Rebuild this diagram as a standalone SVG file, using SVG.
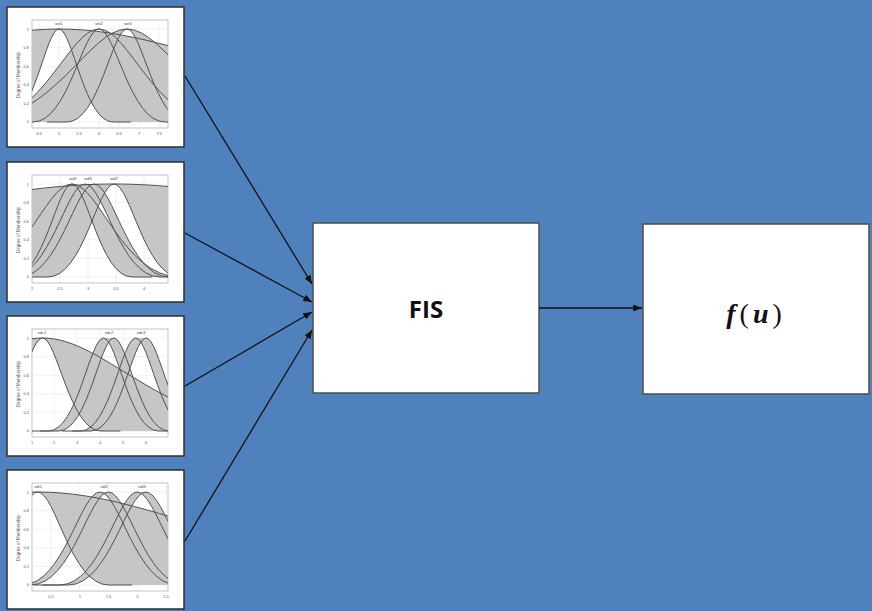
<svg xmlns="http://www.w3.org/2000/svg" xmlns:xlink="http://www.w3.org/1999/xlink" width="872" height="611" viewBox="0 0 872 611">
  <style>
    .bg { fill: #4f81bd; }
    .panel { fill: #ffffff; stroke: #2e2e2e; stroke-width: 1.5; }
    .frm { fill: #ffffff; stroke: #9a9a9a; stroke-width: 0.6; }
    .grid { stroke: #e2e2e2; stroke-width: 0.5; fill: none; }
    .fou { fill: #c6c6c6; }
    .crv { fill: none; stroke: #505050; stroke-width: 1; }
    .tk { font-family: "Liberation Sans", Arial, sans-serif; font-size: 4px; fill: #555555; }
    .tx { text-anchor: middle; }
    .ty { text-anchor: end; }
    .mfl { font-family: "Liberation Sans", Arial, sans-serif; font-size: 4px; fill: #444444; text-anchor: middle; }
    .ylab { font-family: "Liberation Sans", Arial, sans-serif; font-size: 4.5px; fill: #555555; text-anchor: middle; }
    .box { fill: #ffffff; stroke: #4d4d4d; stroke-width: 1.5; }
    .link { fill: none; stroke: #111111; stroke-width: 1.3; marker-end: url(#arr); }
    .fis { font-family: "Open Sans", "Liberation Sans", sans-serif; font-weight: bold; font-size: 24px; fill: #111111; text-anchor: middle; }
    .math { font-family: "Liberation Serif", "DejaVu Serif", serif; font-size: 28px; fill: #111111; text-anchor: middle; letter-spacing: 4px; }
    .mi { font-style: italic; font-weight: bold; }
  </style>
  <defs>
    <clipPath id="frame"><rect x="25" y="13" width="136" height="108"/></clipPath>
    <marker id="arr" viewBox="0 0 10 8" refX="10" refY="4" markerWidth="9" markerHeight="7" markerUnits="userSpaceOnUse" orient="auto">
      <path d="M0,0 L10,4 L0,8 Z" fill="#111111"/>
    </marker>

    <!-- Gaussian membership curves, panel-local coordinates: y=115 is 0, y=22 is 1 -->
    <!-- panel 1 -->
    <path id="a11l" d="M -20 115 L -2 115 C 26.8 115 38.5 22 52 22 C 65.5 22 77.2 115 106 115 L 124 115"/>
    <path id="a11u" d="M -668 115 L -488 115 C -200 115 -83 22 52 22 C 187 22 304 115 592 115 L 772 115"/>
    <path id="a12u" d="M -68 115 L -28 115 C 36 115 62 22 92 22 C 122 22 148 115 212 115 L 252 115"/>
    <path id="a12l" d="M 4 115 L 26 115 C 61.2 115 75.5 22 92 22 C 108.5 22 122.8 115 158 115 L 180 115"/>
    <path id="a13u" d="M -88 115 L -36 115 C 47.2 115 81 22 120 22 C 159 22 192.8 115 276 115 L 328 115"/>
    <path id="a13l" d="M 40 115 L 60 115 C 92 115 105 22 120 22 C 135 22 148 115 180 115 L 200 115"/>
    <!-- panel 2 -->
    <path id="a21u" d="M -79 115 L -43 115 C 14.6 115 38 22 65 22 C 92 22 115.4 115 173 115 L 209 115"/>
    <path id="a21l" d="M -15 115 L 5 115 C 37 115 50 22 65 22 C 80 22 93 115 125 115 L 145 115"/>
    <path id="a221" d="M -22 115 L 3 115 C 43 115 59.25 22 78 22 C 96.75 22 113 115 153 115 L 178 115"/>
    <path id="a222" d="M -13 115 L 12 115 C 52 115 68.25 22 87 22 C 105.75 22 122 115 162 115 L 187 115"/>
    <path id="a22U" d="M 3 115 C 43 115 59.25 22 78 22 L 87 22 C 105.75 22 122 115 162 115"/>
    <path id="a23l" d="M 19 115 L 41 115 C 76.2 115 90.5 22 107 22 C 123.5 22 137.8 115 173 115 L 195 115"/>
    <path id="a23u" d="M -889 115 L -640 115 C -241.6 115 -79.8 22 107 22 C 293.8 22 455.6 115 854 115 L 1103 115"/>
    <!-- panel 3 -->
    <path id="a31l" d="M -42.5 115 L -23 115 C 8.2 115 20.9 22 35.5 22 C 50.1 22 62.8 115 94 115 L 113.5 115"/>
    <path id="a31u" d="M -312.5 115 L -225.5 115 C -86.3 115 -29.75 22 35.5 22 C 100.75 22 157.3 115 296.5 115 L 383.5 115"/>
    <path id="a321" d="M 22.85 115 L 41.25 115 C 70.69 115 82.65 22 96.45 22 C 110.25 22 122.21 115 151.65 115 L 170.05 115"/>
    <path id="a322" d="M 33.2 115 L 51.6 115 C 81.04 115 93 22 106.8 22 C 120.6 22 132.56 115 162 115 L 180.4 115"/>
    <path id="a32U" d="M 41.25 115 C 70.69 115 82.65 22 96.45 22 L 106.8 22 C 120.6 22 132.56 115 162 115"/>
    <path id="a331" d="M 55.05 115 L 73.45 115 C 102.89 115 114.85 22 128.65 22 C 142.45 22 154.41 115 183.85 115 L 202.25 115"/>
    <path id="a332" d="M 65.4 115 L 83.8 115 C 113.24 115 125.2 22 139 22 C 152.8 22 164.76 115 194.2 115 L 212.6 115"/>
    <path id="a33U" d="M 73.45 115 C 102.89 115 114.85 22 128.65 22 L 139 22 C 152.8 22 164.76 115 194.2 115"/>
    <!-- panel 4 -->
    <path id="a41l" d="M -63.6 115 L -40 115 C -2.24 115 13.1 22 30.8 22 C 48.5 22 63.84 115 101.6 115 L 125.2 115"/>
    <path id="a41u" d="M -659.2 115 L -486.7 115 C -210.7 115 -98.6 22 30.8 22 C 160.2 22 272.3 115 548.3 115 L 720.8 115"/>
    <path id="a421" d="M -10.7 115 L 15.2 115 C 56.64 115 73.47 22 92.9 22 C 112.33 22 129.16 115 170.6 115 L 196.5 115"/>
    <path id="a422" d="M -2.1 115 L 23.8 115 C 65.24 115 82.07 22 101.5 22 C 120.93 22 137.76 115 179.2 115 L 205.1 115"/>
    <path id="a42U" d="M 15.2 115 C 56.64 115 73.47 22 92.9 22 L 101.5 22 C 120.93 22 137.76 115 179.2 115"/>
    <path id="a431" d="M 26.65 115 L 52.55 115 C 93.99 115 110.82 22 130.25 22 C 149.68 22 166.51 115 207.95 115 L 233.85 115"/>
    <path id="a432" d="M 35.3 115 L 61.2 115 C 102.64 115 119.47 22 138.9 22 C 158.33 22 175.16 115 216.6 115 L 242.5 115"/>
    <path id="a43U" d="M 52.55 115 C 93.99 115 110.82 22 130.25 22 L 138.9 22 C 158.33 22 175.16 115 216.6 115"/>

    <!-- footprints of uncertainty: upper area minus lower area -->
    <mask id="k11" maskUnits="userSpaceOnUse" x="25" y="13" width="136" height="108"><use href="#a11u" fill="#fff"/><use href="#a11l" fill="#000"/></mask>
    <mask id="k12" maskUnits="userSpaceOnUse" x="25" y="13" width="136" height="108"><use href="#a12u" fill="#fff"/><use href="#a12l" fill="#000"/></mask>
    <mask id="k13" maskUnits="userSpaceOnUse" x="25" y="13" width="136" height="108"><use href="#a13u" fill="#fff"/><use href="#a13l" fill="#000"/></mask>

    <mask id="k21" maskUnits="userSpaceOnUse" x="25" y="13" width="136" height="108"><use href="#a21u" fill="#fff"/><use href="#a21l" fill="#000"/></mask>
    <clipPath id="q22"><use href="#a222"/></clipPath>
    <mask id="k22" maskUnits="userSpaceOnUse" x="25" y="13" width="136" height="108"><use href="#a22U" fill="#fff"/><use href="#a221" fill="#000" clip-path="url(#q22)"/></mask>
    <mask id="k23" maskUnits="userSpaceOnUse" x="25" y="13" width="136" height="108"><use href="#a23u" fill="#fff"/><use href="#a23l" fill="#000"/></mask>

    <mask id="k31" maskUnits="userSpaceOnUse" x="25" y="13" width="136" height="108"><use href="#a31u" fill="#fff"/><use href="#a31l" fill="#000"/></mask>
    <clipPath id="q32"><use href="#a322"/></clipPath>
    <mask id="k32" maskUnits="userSpaceOnUse" x="25" y="13" width="136" height="108"><use href="#a32U" fill="#fff"/><use href="#a321" fill="#000" clip-path="url(#q32)"/></mask>
    <clipPath id="q33"><use href="#a332"/></clipPath>
    <mask id="k33" maskUnits="userSpaceOnUse" x="25" y="13" width="136" height="108"><use href="#a33U" fill="#fff"/><use href="#a331" fill="#000" clip-path="url(#q33)"/></mask>

    <mask id="k41" maskUnits="userSpaceOnUse" x="25" y="13" width="136" height="108"><use href="#a41u" fill="#fff"/><use href="#a41l" fill="#000"/></mask>
    <clipPath id="q42"><use href="#a422"/></clipPath>
    <mask id="k42" maskUnits="userSpaceOnUse" x="25" y="13" width="136" height="108"><use href="#a42U" fill="#fff"/><use href="#a421" fill="#000" clip-path="url(#q42)"/></mask>
    <clipPath id="q43"><use href="#a432"/></clipPath>
    <mask id="k43" maskUnits="userSpaceOnUse" x="25" y="13" width="136" height="108"><use href="#a43U" fill="#fff"/><use href="#a431" fill="#000" clip-path="url(#q43)"/></mask>

    <!-- shared horizontal grid and y ticks -->
    <g id="hgrid" class="grid">
      <line x1="25" y1="115" x2="161" y2="115"/>
      <line x1="25" y1="96.4" x2="161" y2="96.4"/>
      <line x1="25" y1="77.8" x2="161" y2="77.8"/>
      <line x1="25" y1="59.2" x2="161" y2="59.2"/>
      <line x1="25" y1="40.6" x2="161" y2="40.6"/>
      <line x1="25" y1="22" x2="161" y2="22"/>
    </g>
    <g id="yaxis">
      <text class="tk ty" x="22" y="23.5">1</text>
      <text class="tk ty" x="22" y="42">0.8</text>
      <text class="tk ty" x="22" y="60.6">0.6</text>
      <text class="tk ty" x="22" y="79.2">0.4</text>
      <text class="tk ty" x="22" y="97.8">0.2</text>
      <text class="tk ty" x="22" y="116.4">0</text>
      <text class="ylab" transform="translate(13 68) rotate(-90)">Degree of Membership</text>
    </g>
  </defs>

  <rect class="bg" x="0" y="0" width="872" height="611"/>

  <!-- input 1 -->
  <g id="panel-1" transform="translate(7 7)">
    <rect class="panel" x="0" y="0" width="177" height="140"/>
    <rect class="frm" x="25" y="13" width="136" height="108"/>
    <use href="#hgrid"/>
    <g class="grid">
      <line x1="32" y1="13" x2="32" y2="121"/><line x1="52" y1="13" x2="52" y2="121"/><line x1="72" y1="13" x2="72" y2="121"/>
      <line x1="92" y1="13" x2="92" y2="121"/><line x1="112" y1="13" x2="112" y2="121"/><line x1="132" y1="13" x2="132" y2="121"/>
      <line x1="152" y1="13" x2="152" y2="121"/>
    </g>
    <g clip-path="url(#frame)">
      <use href="#a11u" class="fou" mask="url(#k11)"/>
      <use href="#a12u" class="fou" mask="url(#k12)"/>
      <use href="#a13u" class="fou" mask="url(#k13)"/>
      <use href="#a11l" class="crv"/><use href="#a11u" class="crv"/>
      <use href="#a12l" class="crv"/><use href="#a12u" class="crv"/>
      <use href="#a13l" class="crv"/><use href="#a13u" class="crv"/>
    </g>
    <text class="mfl" x="52" y="18">wn1</text>
    <text class="mfl" x="92" y="18">wn2</text>
    <text class="mfl" x="121" y="18">wn3</text>
    <use href="#yaxis"/>
    <text class="tk tx" x="32" y="128">4.5</text><text class="tk tx" x="52" y="128">5</text><text class="tk tx" x="72" y="128">5.5</text>
    <text class="tk tx" x="92" y="128">6</text><text class="tk tx" x="112" y="128">6.5</text><text class="tk tx" x="132" y="128">7</text>
    <text class="tk tx" x="152" y="128">7.5</text>
  </g>

  <!-- input 2 -->
  <g id="panel-2" transform="translate(7 162)">
    <rect class="panel" x="0" y="0" width="177" height="140"/>
    <rect class="frm" x="25" y="13" width="136" height="108"/>
    <use href="#hgrid"/>
    <g class="grid">
      <line x1="53" y1="13" x2="53" y2="121"/><line x1="81" y1="13" x2="81" y2="121"/>
      <line x1="109" y1="13" x2="109" y2="121"/><line x1="137" y1="13" x2="137" y2="121"/>
    </g>
    <g clip-path="url(#frame)">
      <use href="#a21u" class="fou" mask="url(#k21)"/>
      <use href="#a22U" class="fou" mask="url(#k22)"/>
      <use href="#a23u" class="fou" mask="url(#k23)"/>
      <use href="#a21l" class="crv"/><use href="#a21u" class="crv"/>
      <use href="#a221" class="crv"/><use href="#a222" class="crv"/>
      <use href="#a23l" class="crv"/><use href="#a23u" class="crv"/>
    </g>
    <text class="mfl" x="66" y="18">wd2</text>
    <text class="mfl" x="81" y="18">wd3</text>
    <text class="mfl" x="107" y="18">wd7</text>
    <use href="#yaxis"/>
    <text class="tk tx" x="25" y="128">2</text><text class="tk tx" x="53" y="128">2.5</text><text class="tk tx" x="81" y="128">3</text>
    <text class="tk tx" x="109" y="128">3.5</text><text class="tk tx" x="137" y="128">4</text>
  </g>

  <!-- input 3 -->
  <g id="panel-3" transform="translate(7 316)">
    <rect class="panel" x="0" y="0" width="177" height="140"/>
    <rect class="frm" x="25" y="13" width="136" height="108"/>
    <use href="#hgrid"/>
    <g class="grid">
      <line x1="47" y1="13" x2="47" y2="121"/><line x1="70" y1="13" x2="70" y2="121"/><line x1="93" y1="13" x2="93" y2="121"/>
      <line x1="116" y1="13" x2="116" y2="121"/><line x1="139" y1="13" x2="139" y2="121"/>
    </g>
    <g clip-path="url(#frame)">
      <use href="#a31u" class="fou" mask="url(#k31)"/>
      <use href="#a32U" class="fou" mask="url(#k32)"/>
      <use href="#a33U" class="fou" mask="url(#k33)"/>
      <use href="#a31l" class="crv"/><use href="#a31u" class="crv"/>
      <use href="#a321" class="crv"/><use href="#a322" class="crv"/>
      <use href="#a331" class="crv"/><use href="#a332" class="crv"/>
    </g>
    <text class="mfl" x="35" y="18">sdc1</text>
    <text class="mfl" x="102" y="18">sdc2</text>
    <text class="mfl" x="134" y="18">sdc3</text>
    <use href="#yaxis"/>
    <text class="tk tx" x="25" y="128">1</text><text class="tk tx" x="47" y="128">2</text><text class="tk tx" x="70" y="128">3</text>
    <text class="tk tx" x="93" y="128">4</text><text class="tk tx" x="116" y="128">5</text><text class="tk tx" x="139" y="128">6</text>
  </g>

  <!-- input 4 -->
  <g id="panel-4" transform="translate(7 470)">
    <rect class="panel" x="0" y="0" width="177" height="139"/>
    <rect class="frm" x="25" y="13" width="136" height="108"/>
    <use href="#hgrid"/>
    <g class="grid">
      <line x1="44" y1="13" x2="44" y2="121"/><line x1="72.75" y1="13" x2="72.75" y2="121"/>
      <line x1="101.5" y1="13" x2="101.5" y2="121"/><line x1="130.25" y1="13" x2="130.25" y2="121"/>
      <line x1="159" y1="13" x2="159" y2="121"/>
    </g>
    <g clip-path="url(#frame)">
      <use href="#a41u" class="fou" mask="url(#k41)"/>
      <use href="#a42U" class="fou" mask="url(#k42)"/>
      <use href="#a43U" class="fou" mask="url(#k43)"/>
      <use href="#a41l" class="crv"/><use href="#a41u" class="crv"/>
      <use href="#a421" class="crv"/><use href="#a422" class="crv"/>
      <use href="#a431" class="crv"/><use href="#a432" class="crv"/>
    </g>
    <text class="mfl" x="31" y="18">sdt1</text>
    <text class="mfl" x="97" y="18">sdt2</text>
    <text class="mfl" x="135" y="18">sdt3</text>
    <use href="#yaxis"/>
    <text class="tk tx" x="44" y="128">0.5</text><text class="tk tx" x="72.75" y="128">1</text><text class="tk tx" x="101.5" y="128">1.5</text>
    <text class="tk tx" x="130.25" y="128">2</text><text class="tk tx" x="159" y="128">2.5</text>
  </g>

  <!-- inference system -->
  <g id="fis">
    <rect class="box" x="313" y="223" width="226" height="170"/>
    <text class="fis" x="426" y="318">FIS</text>
  </g>

  <!-- output function -->
  <g id="output">
    <rect class="box" x="643" y="224" width="226" height="170"/>
    <text class="math" x="756" y="323"><tspan class="mi">f</tspan>(<tspan class="mi">u</tspan>)</text>
  </g>

  <g id="connectors">
    <line class="link" x1="185" y1="76" x2="312" y2="284"/>
    <line class="link" x1="185" y1="233" x2="312" y2="302"/>
    <line class="link" x1="185" y1="386" x2="312" y2="312"/>
    <line class="link" x1="185" y1="541" x2="312" y2="330"/>
    <line class="link" x1="539" y1="308" x2="642" y2="308"/>
  </g>
</svg>
